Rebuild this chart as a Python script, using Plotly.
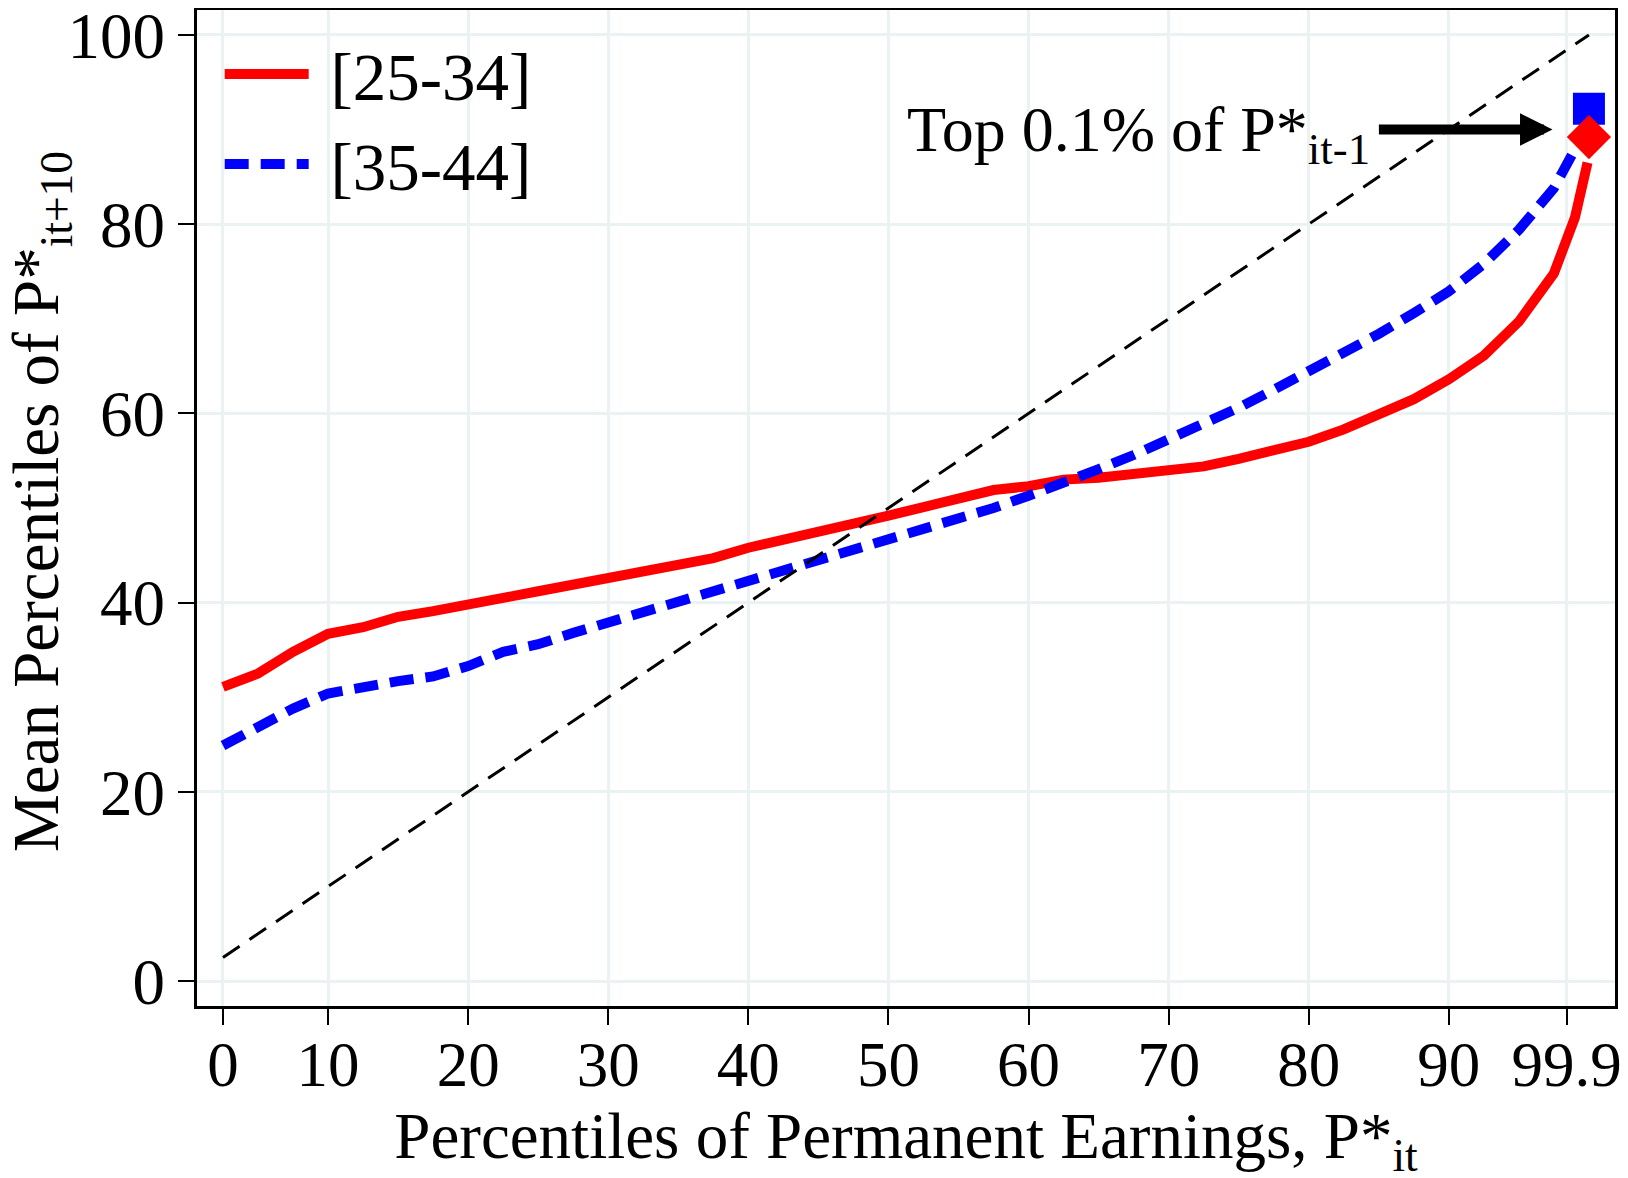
import plotly.graph_objects as go

# ---- data ----
pct = [2.5, 5, 7.5, 10, 12.5, 15, 17.5, 20, 22.5, 25, 27.5, 30, 32.5, 35, 37.5,
       40, 42.5, 45, 47.5, 50, 52.5, 55, 57.5, 60, 62.5, 65, 67.5, 70, 72.5, 75,
       77.5, 80, 82.5, 85, 87.5, 90, 92.5, 95, 97.5, 99, 99.9]
age_25_34 = [31.1, 32.5, 34.8, 36.7, 37.4, 38.5, 39.1, 39.7, 40.5, 41.2, 41.9, 42.4,
             43.3, 44.0, 44.7, 45.8, 46.6, 47.4, 48.2, 49.2, 50.1, 51.0, 51.9, 52.3,
             53.0, 53.2, 53.6, 54.1, 54.4, 55.2, 56.0, 57.0, 58.3, 59.9, 61.5, 63.6,
             66.1, 69.7, 74.8, 80.7, 86.5]
age_35_44 = [24.9, 26.8, 28.8, 30.4, 31.1, 31.7, 32.2, 33.3, 34.8, 35.6, 36.8, 37.9,
             39.1, 40.1, 41.3, 42.4, 43.5, 44.5, 45.6, 46.6, 47.7, 48.8, 50.0, 51.3,
             52.6, 54.1, 55.6, 57.2, 59.0, 60.6, 62.5, 64.4, 66.3, 68.4, 70.6, 72.9,
             75.8, 79.4, 83.8, 87.6, 90.4]
top_x = [100]
top_25_34 = [89.2]
top_35_44 = [92.2]
diag_x = [2.5, 100]
diag_y = [2.5, 100]
xtick_vals = [2.5, 10, 20, 30, 40, 50, 60, 70, 80, 90, 98.4]
xtick_text = ["0", "10", "20", "30", "40", "50", "60", "70", "80", "90", "99.9"]
ytick_vals = [0, 20, 40, 60, 80, 100]
ytick_text = ["0", "20", "40", "60", "80", "100"]

FONT = "Liberation Serif"
GRID = "#eaf2f3"
NB = "\u00a0"

fig = go.Figure()
fig.add_trace(go.Scatter(x=pct, y=age_25_34, mode="lines", name=NB + "[25-34]",
                         line=dict(color="#ff0000", width=10)))
fig.add_trace(go.Scatter(x=pct, y=age_35_44, mode="lines", name=NB + "[35-44]",
                         line=dict(color="#0000ff", width=10, dash="24px,12px")))
fig.add_trace(go.Scatter(x=diag_x, y=diag_y, mode="lines", showlegend=False,
                         line=dict(color="black", width=3, dash="20px,12px")))
fig.add_trace(go.Scatter(x=top_x, y=top_35_44, mode="markers", showlegend=False,
                         marker=dict(symbol="square", size=32, color="#0000ff",
                                     line=dict(width=0))))
fig.add_trace(go.Scatter(x=top_x, y=top_25_34, mode="markers", showlegend=False,
                         marker=dict(symbol="diamond", size=34, color="#ff0000",
                                     line=dict(width=0))))

fig.add_annotation(x=97.4, y=90.0, ax=84.9, ay=90.0, xref="x", yref="y",
                   axref="x", ayref="y", text="", showarrow=True,
                   arrowhead=2, arrowsize=0.65, arrowwidth=10, arrowcolor="black")
fig.add_annotation(x=84.5, y=89.5, xref="x", yref="y", xanchor="right",
                   yanchor="middle", showarrow=False,
                   text="Top 0.1% of P*<sub>it-1</sub>",
                   font=dict(family=FONT, size=64, color="black"))
# y-axis title (placed as rotated text so it can sit close to the page edge)
fig.add_annotation(x=-0.110, y=0.506, xref="paper", yref="paper",
                   xanchor="center", yanchor="middle", showarrow=False,
                   textangle=-90, text="Mean Percentiles of P*<sub>it+10</sub>",
                   font=dict(family=FONT, size=65, color="black"))

fig.update_layout(
    width=1628, height=1178,
    margin=dict(l=189, r=21, t=2, b=180),
    paper_bgcolor="white", plot_bgcolor="white",
    font=dict(family=FONT, size=64, color="black"),
    showlegend=True,
    legend=dict(x=0.016, y=0.986, xanchor="left", yanchor="top",
                bgcolor="rgba(0,0,0,0)", font=dict(family=FONT, size=67),
                itemwidth=84, tracegroupgap=0),
    xaxis=dict(range=[0.645, 101.86], tickmode="array", tickvals=xtick_vals,
               ticktext=xtick_text, showgrid=True, gridcolor=GRID, gridwidth=3,
               zeroline=False, showline=True, linecolor="black", linewidth=3,
               mirror=True, ticks="outside", ticklen=16, tickwidth=2,
               tickcolor="black", tickfont=dict(family=FONT, size=63),
               ticklabelstandoff=-15, automargin=False, ticklabeloverflow="allow",
               title=dict(text="Percentiles of Permanent Earnings, P*<sub>it</sub>",
                          font=dict(family=FONT, size=65), standoff=0)),
    yaxis=dict(range=[-2.63, 102.63], tickmode="array", tickvals=ytick_vals,
               ticktext=ytick_text, showgrid=True, gridcolor=GRID, gridwidth=3,
               zeroline=False, showline=True, linecolor="black", linewidth=3,
               mirror=True, ticks="outside", ticklen=16, tickwidth=2,
               tickcolor="black", tickfont=dict(family=FONT, size=65),
               automargin=False, ticklabeloverflow="allow"),
)

fig.write_html("out.html")
